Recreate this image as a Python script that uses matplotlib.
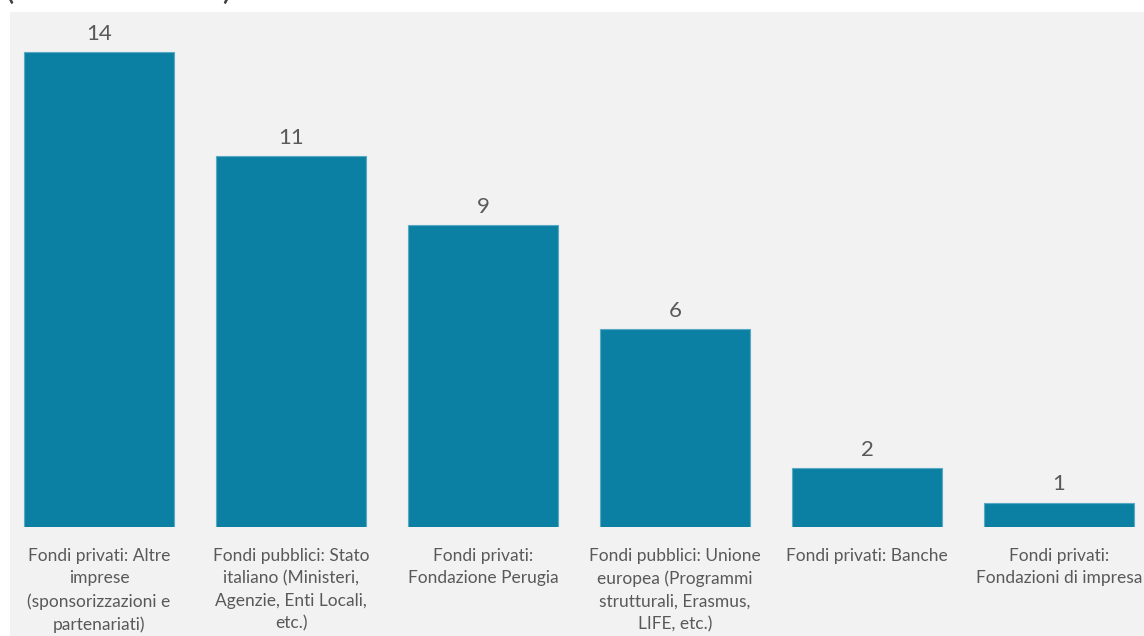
import matplotlib
matplotlib.use("Agg")
import matplotlib.pyplot as plt
from matplotlib.patches import Rectangle

categories = [
    "Fondi privati: Altre\nimprese\n(sponsorizzazioni e\npartenariati)",
    "Fondi pubblici: Stato\nitaliano (Ministeri,\nAgenzie, Enti Locali,\netc.)",
    "Fondi privati:\nFondazione Perugia",
    "Fondi pubblici: Unione\neuropea (Programmi\nstrutturali, Erasmus,\nLIFE, etc.)",
    "Fondi privati: Banche",
    "Fondi privati:\nFondazioni di impresa",
]
values = [14, 11, 9, 6, 2, 1]

W, H = 1144, 636
bar_color = "#0c80a2"
text_color = "#595959"
plt.rcParams["font.family"] = ["Lato", "DejaVu Sans"]

fig = plt.figure(figsize=(W / 100, H / 100), dpi=100, facecolor="white")

# grey panel behind the chart
fig.patches.append(Rectangle((10 / W, 0), 1 - 10 / W, (H - 12) / H,
                             transform=fig.transFigure, facecolor="#f2f2f2",
                             edgecolor="none", zorder=-5))

# title line cut off by the top edge
fig.text(5 / W, 1 + 1 / H, "(valori assoluti)", fontsize=25, color="#404040",
         ha="left", va="baseline")

ymin, ytop = 0.3, 15
px_unit = 475 / (14 - ymin)
ax_h = (ytop - ymin) * px_unit
ax = fig.add_axes([3 / W, 109 / H, 1152 / W, ax_h / H])
ax.set_facecolor("none")

x = range(len(values))
bars = ax.bar(x, values, width=150 / 192, color=bar_color,
              edgecolor="#5aa9c4", linewidth=0.8)
for b, v in zip(bars, values):
    ax.annotate(str(v), (b.get_x() + b.get_width() / 2, v),
                xytext=(0, 6), textcoords="offset points",
                ha="center", va="bottom", fontsize=16, color=text_color)

ax.set_xlim(-0.5, len(values) - 0.5)
ax.set_ylim(ymin, ytop)
ax.set_xticks(list(x))
ax.set_xticklabels(categories, fontsize=12.5, color=text_color,
                   linespacing=1.5, multialignment="center")
ax.tick_params(axis="x", length=0, pad=15)
ax.set_yticks([])
for s in ax.spines.values():
    s.set_visible(False)

fig.savefig("out.png", dpi=100, facecolor="white")
